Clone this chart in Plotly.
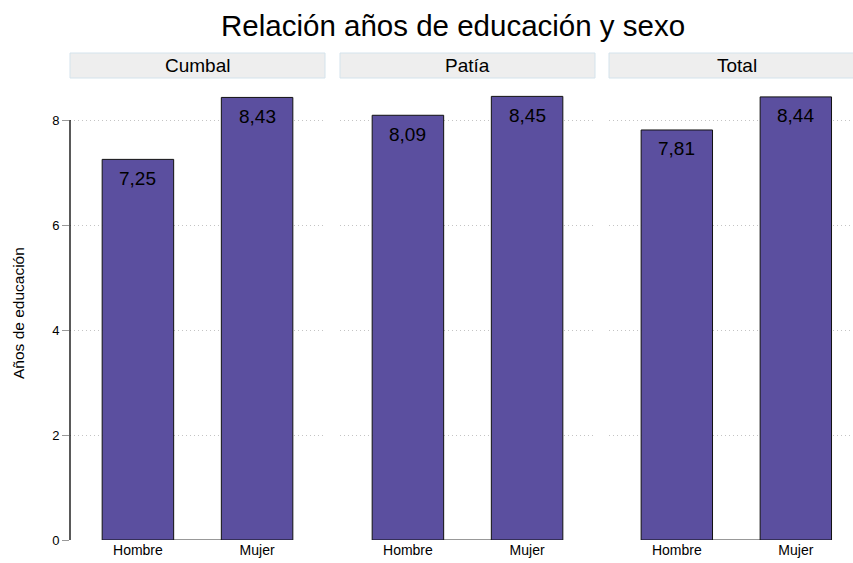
import plotly.graph_objects as go

panels = ["Cumbal", "Patía", "Total"]
categories = ["Hombre", "Mujer"]
values = {
    "Cumbal": [7.25, 8.43],
    "Patía": [8.09, 8.45],
    "Total": [7.81, 8.44],
}
y_ticks = [0, 2, 4, 6, 8]

W, H = 853, 563
FONT = "Liberation Sans, Arial, sans-serif"
BAR_COLOR = "#5B4F9F"

# panel pixel extents
px_panels = [(70, 325), (340, 595), (609, 853)]
x_ranges = [[-0.57, 1.57], [-0.57, 1.57], [-0.57, -0.57 + (853 - 609) / 119.0]]
y_bottom, y_top = 540, 78

fig = go.Figure()
layout = dict(
    width=W, height=H,
    margin=dict(l=0, r=0, t=0, b=0, autoexpand=False),
    plot_bgcolor="white", paper_bgcolor="white",
    showlegend=False,
    font=dict(family=FONT, color="black"),
    bargap=0.4,
)
shapes = []
annotations = []

for i, p in enumerate(panels):
    sfx = "" if i == 0 else str(i + 1)
    xa = "x" + sfx
    ya = "y" + sfx
    fig.add_trace(go.Bar(
        x=categories, y=values[p], xaxis=xa, yaxis=ya,
        marker=dict(color=BAR_COLOR, line=dict(color="#111111", width=1)),
        width=0.6, hoverinfo="skip",
    ))
    x0, x1 = px_panels[i]
    layout["xaxis" + sfx] = dict(
        domain=[x0 / W, x1 / W], anchor=ya, range=x_ranges[i],
        showgrid=False, zeroline=False, showline=False, automargin=False,
        ticks="", tickfont=dict(size=14, family=FONT), fixedrange=True,
        categoryorder="array", categoryarray=categories,
    )
    yax = dict(
        domain=[1 - y_bottom / H, 1 - y_top / H], anchor=xa, range=[0, 8.8],
        tickvals=y_ticks, showgrid=True, gridcolor="#C4C4C4", griddash="1px,3px",
        gridwidth=1, zeroline=False, showline=False, automargin=False,
        showticklabels=(i == 0), ticks=("outside" if i == 0 else ""),
        ticklen=7, tickcolor="#999999", tickfont=dict(size=13, family=FONT),
        fixedrange=True,
    )
    if i != 0:
        yax["matches"] = "y"
    layout["yaxis" + sfx] = yax

    # capped x axis line between first and last category
    shapes.append(dict(type="line", xref=xa, yref=ya, x0=categories[0], x1=categories[-1],
                       y0=0, y1=0, line=dict(color="#999999", width=2), layer="below"))
    # strip
    shapes.append(dict(type="rect", xref="paper", yref="paper",
                       x0=x0 / W, x1=(x0 + 255) / W, y0=1 - 78 / H, y1=1 - 53 / H,
                       fillcolor="#EEEEEE", line=dict(color="#D4E3EC", width=1)))
    annotations.append(dict(text=p, xref="paper", yref="paper", x=(x0 + 127.5) / W,
                            y=1 - 65.5 / H, showarrow=False, xanchor="center", yanchor="middle",
                            font=dict(size=19, family=FONT, color="black")))
    for c, v in zip(categories, values[p]):
        annotations.append(dict(text=f"{v:.2f}".replace(".", ","), xref=xa, yref=ya, x=c, y=v,
                                yshift=-19, showarrow=False, xanchor="center", yanchor="middle",
                                font=dict(size=19, family=FONT, color="black")))

# capped left y axis line (0 to 8)
shapes.append(dict(type="line", xref="paper", yref="y", x0=70 / W, x1=70 / W,
                   y0=y_ticks[0], y1=y_ticks[-1], line=dict(color="black", width=1.3)))

# y axis title
annotations.append(dict(text="Años de educación", xref="paper", yref="paper",
                        x=18 / W, y=1 - 313 / H, textangle=-90, showarrow=False,
                        xanchor="center", yanchor="middle",
                        font=dict(size=15.5, family=FONT, color="black")))

annotations.append(dict(text="Relación años de educación y sexo", xref="paper", yref="paper",
                        x=453 / W, y=1 - 25 / H, showarrow=False, xanchor="center", yanchor="middle",
                        font=dict(size=29.5, family=FONT, color="black")))

layout["shapes"] = shapes
layout["annotations"] = annotations
fig.update_layout(**layout)
fig.write_html("out.html", config={"displayModeBar": False},
               post_script="document.body.style.margin='0';document.body.style.padding='0';")
